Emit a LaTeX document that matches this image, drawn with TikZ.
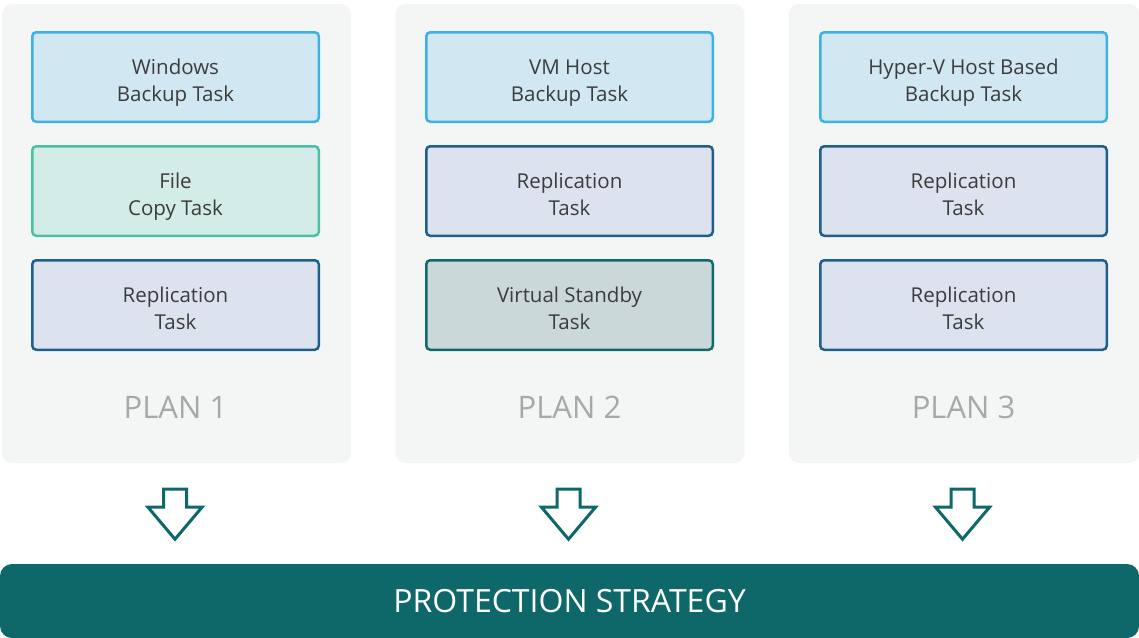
\documentclass[tikz,border=0pt]{standalone}
\usepackage{fontspec}
\setmainfont{Open Sans}
\usetikzlibrary{positioning, calc}
\definecolor{panelgray}{HTML}{F4F6F6}
\definecolor{backupfill}{HTML}{D1E8F2}
\definecolor{backupline}{HTML}{3BB2E0}
\definecolor{copyfill}{HTML}{D3ECE7}
\definecolor{copyline}{HTML}{4CC0A6}
\definecolor{replfill}{HTML}{DDE3EE}
\definecolor{replline}{HTML}{1F5F8B}
\definecolor{standbyfill}{HTML}{CBD8DA}
\definecolor{standbyline}{HTML}{0F6B6B}
\definecolor{tasktext}{HTML}{3C3C3C}
\definecolor{plantext}{HTML}{A8A8A8}
\definecolor{teal}{HTML}{0E6769}

\begin{document}
\begin{tikzpicture}[x=1pt, y=-1pt]
  \tikzstyle{panel}=[fill=panelgray, rounded corners=10pt, minimum width=349pt, minimum height=459pt, inner sep=0pt]
  \tikzstyle{task}=[draw, line width=2.5pt, rounded corners=4pt, minimum width=286.5pt, minimum height=89.5pt, align=center, text height=48pt, text depth=0pt, text=tasktext, font=\fontsize{20.5}{27}\selectfont]
  \tikzstyle{backup}=[task, draw=backupline, fill=backupfill]
  \tikzstyle{copytask}=[task, draw=copyline, fill=copyfill]
  \tikzstyle{repl}=[task, draw=replline, fill=replfill]
  \tikzstyle{standby}=[task, draw=standbyline, fill=standbyfill]
  \tikzstyle{planlabel}=[text=plantext, font=\fontsize{31}{36}\selectfont]
  \tikzstyle{blockarrow}=[draw=teal, line width=3pt, fill=white, line join=miter]
  \useasboundingbox (0,0) rectangle (1139,637);

  \node[panel] (plan1) at (176.5,233.5) {};
  \node[panel] (plan2) at (570,233.5) {};
  \node[panel, minimum width=350pt] (plan3) at (964,233.5) {};

  \node[backup] (win) at (175.5,77) {Windows\\Backup Task};
  \node[copytask, below=22pt of win] (filecopy) {File\\Copy Task};
  \node[repl, below=22pt of filecopy] (repa) {Replication\\Task};
  \node[planlabel] (lab1) at (175.5,407) {PLAN 1};

  \node[backup] (vmhost) at (569.5,77) {VM Host\\Backup Task};
  \node[repl, below=22pt of vmhost] (repb) {Replication\\Task};
  \node[standby, below=22pt of repb] (vsb) {Virtual Standby\\Task};
  \node[planlabel] (lab2) at (569.5,407) {PLAN 2};

  \node[backup] (hyperv) at (963.5,77) {Hyper-V Host Based\\Backup Task};
  \node[repl, below=22pt of hyperv] (repc) {Replication\\Task};
  \node[repl, below=22pt of repc] (repd) {Replication\\Task};
  \node[planlabel] (lab3) at (963.5,407) {PLAN 3};

  \node[fill=teal, rounded corners=12pt, minimum width=1139pt, minimum height=74pt, text=white, font=\fontsize{32}{36}\selectfont] (strategy) at (569.5,601) {PROTECTION STRATEGY};

  % block arrows from each plan down to the strategy bar
  \foreach \p in {1,2,3}
    \draw[blockarrow] ($(plan\p.south)+(-13,26)$) -- ++(0,18) -- ++(-15.5,0) -- ++(27,32) -- ++(27,-32) -- ++(-15.5,0) -- ++(0,-18) -- cycle;
\end{tikzpicture}
\end{document}
